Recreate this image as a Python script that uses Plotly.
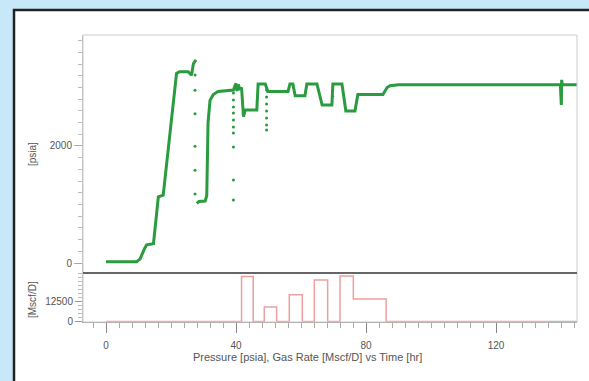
import plotly.graph_objects as go

# Pressure [psia] vs time [hr] (solid trend)
press_t = [0, 9.4, 10.5, 11.2, 11.8, 12.5, 14.6, 16.1, 16.6, 17.6, 21.7, 22.6, 25.3, 26.3, 26.9, 27.7,
           None, 27.9, 28.6, 30.5, 31.0, 31.4, 32.0, 33.0, 34.5, 39.2, 40.0, 40.3, 40.7, 41.2, 41.7,
           42.3, 42.8, 46.4, 46.8, 49.0, 49.8, 56.0, 56.6, 57.5, 58.2, 61.2, 61.8, 64.9, 66.5, 69.5,
           69.8, 72.6, 73.8, 76.6, 77.5, 85.2, 86.5, 87.4, 90.0, 139.8, 140.1, 140.2, 140.4, 145.0]
press_p = [20, 20, 70, 170, 240, 310, 330, 1130, 1140, 1160, 3240, 3270, 3270, 3210, 3410, 3470,
           None, 1020, 1050, 1060, 1150, 2400, 2780, 2880, 2930, 2957, 3070, 2940, 3050, 2960, 3000,
           2500, 2615, 2615, 3060, 3060, 2930, 2930, 3060, 3060, 2860, 2860, 3060, 3060, 2700, 2700,
           3060, 3060, 2600, 2600, 2880, 2880, 3000, 3030, 3045, 3045, 2700, 3130, 3045, 3045]

# Sparse transient samples
dots_t = [27.4, 27.4, 27.4, 27.4, 27.4, 27.4,
          39.2, 39.2, 39.2, 39.2, 39.2, 39.2, 39.2, 39.2, 39.2, 39.2,
          49.4, 49.4, 49.4, 49.4, 49.4, 49.4, 49.4,
          69.7, 69.7]
dots_p = [3213, 2951, 2552, 1995, 1585, 1180,
          2905, 2786, 2666, 2563, 2444, 2324, 2222, 1982, 1418, 1077,
          2957, 2837, 2717, 2597, 2478, 2358, 2273,
          2950, 2850]

# Gas rate [Mscf/D] step history
rate_t = [0, 41.7, 45.3, 48.7, 52.5, 56.4, 60.4, 64.1, 68.2, 72.0, 76.1, 86.2, 136.0]
rate_q = [0, 28100, 0, 9000, 0, 16700, 0, 26000, 0, 28500, 14000, 0, 0]
tail_t = [136.0, 145.0]
tail_q = [0, 0]

x_ticks = [0, 40, 80, 120]
p_ticks = [0, 1000, 2000, 3000]
p_labels = ["0", "", "2000", ""]
q_ticks = [0, 12500, 25000]
q_labels = ["0", "12500", ""]

GREEN = "#2a9b3f"
RED = "#ee9f9f"
FONT = "Liberation Sans"

fig = go.Figure()
fig.add_trace(go.Scatter(x=press_t, y=press_p, mode="lines", line=dict(color=GREEN, width=3),
                         xaxis="x", yaxis="y2", connectgaps=False, showlegend=False))
fig.add_trace(go.Scatter(x=dots_t, y=dots_p, mode="markers", marker=dict(color=GREEN, size=3),
                         xaxis="x", yaxis="y2", showlegend=False))
fig.add_trace(go.Scatter(x=rate_t, y=rate_q, mode="lines", line=dict(color=RED, width=1.5, shape="hv"),
                         xaxis="x", yaxis="y", showlegend=False))
fig.add_trace(go.Scatter(x=tail_t, y=tail_q, mode="lines", line=dict(color="#aaaaaa", width=1.5),
                         xaxis="x", yaxis="y", showlegend=False))

split = (322 - 273) / 287.0
tickfont = dict(family=FONT, size=10, color="#555555")

fig.update_layout(
    width=589, height=381,
    margin=dict(l=83, r=12, t=35, b=59),
    paper_bgcolor="#c6e8f8",
    plot_bgcolor="rgba(0,0,0,0)",
    font=dict(family=FONT, color="#555555"),
    xaxis=dict(domain=[0, 1], range=[-7.08, 144.92], tickvals=x_ticks, ticks="outside", ticklen=10,
               tickcolor="#888888", showgrid=False, zeroline=False, showline=True, linecolor="#999999",
               linewidth=1, tickfont=tickfont, ticklabelstandoff=4,
               minor=dict(tickvals=list(range(-4, 145, 4)), ticklen=5, ticks="outside", tickcolor="#aaaaaa")),
    yaxis=dict(domain=[0, split], range=[-300, 30300], tickvals=q_ticks, ticktext=q_labels,
               ticks="outside", ticklen=7, tickcolor="#999999", showgrid=False, zeroline=False,
               showline=True, linecolor="#bbbbbb", tickfont=tickfont,
               minor=dict(tickvals=list(range(0, 30001, 2500)), ticklen=4, ticks="outside", tickcolor="#bbbbbb")),
    yaxis2=dict(domain=[split, 1], range=[-171, 3897], tickvals=p_ticks, ticktext=p_labels,
                ticks="outside", ticklen=8, tickcolor="#aaaaaa", showgrid=False, zeroline=False,
                showline=True, linecolor="#bbbbbb", tickfont=tickfont,
                minor=dict(tickvals=list(range(0, 3801, 200)), ticklen=4, ticks="outside", tickcolor="#bbbbbb")),
    shapes=[
        dict(type="rect", xref="paper", yref="paper", x0=(14 - 83) / 494.0, x1=1.2,
             y0=-0.5, y1=(322 - 10) / 287.0, fillcolor="white", line=dict(color="#222222", width=2.5),
             layer="below"),
        dict(type="rect", xref="paper", yref="paper", x0=0, x1=1, y0=0, y1=1,
             line=dict(color="#cccccc", width=1), layer="above"),
        dict(type="line", xref="paper", yref="paper", x0=0, x1=1, y0=split, y1=split,
             line=dict(color="#666666", width=2)),
    ],
    annotations=[
        dict(text="[psia]", xref="paper", yref="paper", x=(32 - 83) / 494.0, y=(322 - 154) / 287.0,
             xanchor="center", yanchor="middle",
             textangle=-90, showarrow=False, font=dict(family=FONT, size=10, color="#555555")),
        dict(text="[Mscf/D]", xref="paper", yref="paper", x=(32 - 83) / 494.0, y=(322 - 300) / 287.0,
             xanchor="center", yanchor="middle",
             textangle=-90, showarrow=False, font=dict(family=FONT, size=10, color="#555555")),
        dict(text="Pressure [psia], Gas Rate [Mscf/D] vs Time [hr]", xref="paper", yref="paper",
             x=(307 - 83) / 494.0, y=(322 - 357) / 287.0, xanchor="center", yanchor="middle",
             showarrow=False, font=dict(family=FONT, size=11, color="#555555")),
    ],
)

fig.write_html("out.html", config={"displayModeBar": False},
               post_script="document.body.style.margin='0';document.body.style.overflow='hidden';")
